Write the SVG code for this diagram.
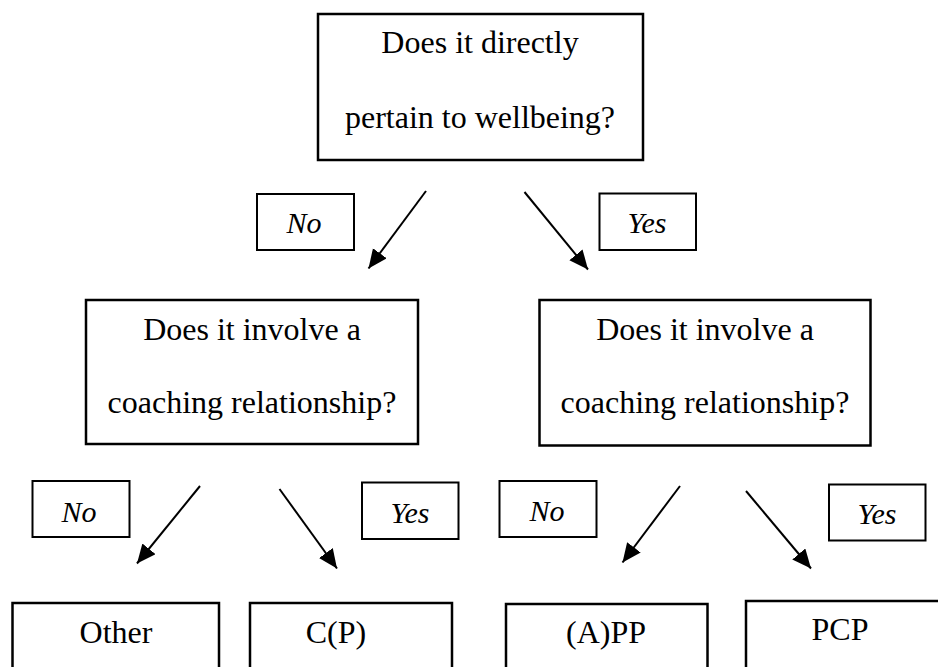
<svg xmlns="http://www.w3.org/2000/svg" width="938" height="667" viewBox="0 0 938 667">
<style>
.box{fill:#fff;stroke:#000;stroke-width:2.5}
.lb{fill:#fff;stroke:#000;stroke-width:2}
.t{font-family:"Liberation Serif","Times New Roman",serif;font-size:32px;fill:#000;text-anchor:middle}
.lbl{font-family:"Liberation Serif","Times New Roman",serif;font-size:30px;font-style:italic;fill:#000;text-anchor:middle}
.c{stroke:#000;stroke-width:2;fill:none;marker-end:url(#ah)}
</style>
<defs>
<marker id="ah" markerUnits="userSpaceOnUse" markerWidth="22" markerHeight="20" refX="19" refY="8.5" orient="auto">
<path d="M0,0 L19,8.5 L0,17 z" fill="#000"/>
</marker>
</defs>
<rect width="938" height="667" fill="#fff"/>
<g id="q1">
<rect class="box" x="318" y="14" width="325" height="146"/>
<text class="t" x="480" y="53">Does it directly</text>
<text class="t" x="480" y="128">pertain to wellbeing?</text>
</g>
<g id="q2">
<rect class="box" x="86" y="300" width="332" height="144"/>
<text class="t" x="252" y="340">Does it involve a</text>
<text class="t" x="252" y="413">coaching relationship?</text>
</g>
<g id="q3">
<rect class="box" x="539.5" y="300" width="331" height="145.5"/>
<text class="t" x="705" y="340">Does it involve a</text>
<text class="t" x="705" y="413">coaching relationship?</text>
</g>
<g id="other">
<rect class="box" x="12.5" y="603" width="206.5" height="80"/>
<text class="t" x="116" y="643">Other</text>
</g>
<g id="cp">
<rect class="box" x="250" y="603" width="202" height="80"/>
<text class="t" x="336" y="643">C(P)</text>
</g>
<g id="app">
<rect class="box" x="506" y="604" width="201.5" height="80"/>
<text class="t" x="606" y="643">(A)PP</text>
</g>
<g id="pcp">
<rect class="box" x="746" y="601" width="210" height="80"/>
<text class="t" x="840" y="640">PCP</text>
</g>
<g id="labels">
<g id="l1"><rect class="lb" x="257" y="194" width="97" height="56"/><text class="lbl" x="304" y="233">No</text></g>
<g id="l2"><rect class="lb" x="599.5" y="193.5" width="96.5" height="56.5"/><text class="lbl" x="647" y="233">Yes</text></g>
<g id="l3"><rect class="lb" x="32.5" y="481" width="97" height="56"/><text class="lbl" x="79" y="522">No</text></g>
<g id="l4"><rect class="lb" x="362" y="482.5" width="96.5" height="56.5"/><text class="lbl" x="410" y="523">Yes</text></g>
<g id="l5"><rect class="lb" x="499.5" y="481" width="97" height="56"/><text class="lbl" x="547" y="521">No</text></g>
<g id="l6"><rect class="lb" x="829" y="484.5" width="96.5" height="56"/><text class="lbl" x="877" y="524">Yes</text></g>
</g>
<g id="connectors">
<line class="c" x1="426" y1="191" x2="368.5" y2="268.5"/>
<line class="c" x1="524.5" y1="192" x2="588" y2="269.5"/>
<line class="c" x1="200" y1="486" x2="137" y2="563.5"/>
<line class="c" x1="279.5" y1="489" x2="337" y2="568.5"/>
<line class="c" x1="680" y1="486" x2="622.5" y2="562.5"/>
<line class="c" x1="746" y1="491" x2="811" y2="568.5"/>
</g>
</svg>
